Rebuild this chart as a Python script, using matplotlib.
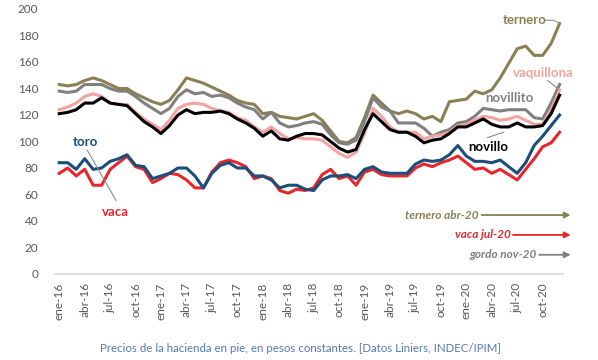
import matplotlib.pyplot as plt
import numpy as np

# Series mensuales ene-16 .. dic-20 (60 meses), pesos constantes
meses = ['ene', 'feb', 'mar', 'abr', 'may', 'jun', 'jul', 'ago', 'sep', 'oct', 'nov', 'dic']
anios = ['16', '17', '18', '19', '20']
etiquetas = [m + '-' + a for a in anios for m in meses]

ternero = [143, 142, 143, 146, 148, 146, 143, 140, 140, 136, 133, 130,
           128, 131, 139, 148, 146, 144, 141, 138, 135, 131, 129, 128,
           121, 122, 119, 118, 117, 119, 121, 116, 108, 100, 99, 103,
           118, 135, 129, 123, 121, 123, 121, 117, 119, 115, 130, 131,
           132, 138, 136, 139, 148, 159, 170, 172, 165, 165, 174, 189]
novillito = [138, 137, 138, 143, 143, 143, 140, 138, 138, 134, 129, 125,
             121, 125, 134, 139, 136, 137, 134, 135, 133, 129, 126, 124,
             117, 122, 114, 111, 112, 114, 115, 113, 105, 99, 98, 101,
             115, 133, 126, 123, 114, 114, 114, 110, 104, 107, 109, 114,
             115, 119, 125, 124, 123, 124, 124, 124, 118, 117, 129, 143]
vaquillona = [124, 126, 129, 134, 136, 134, 129, 128, 128, 122, 117, 113,
              109, 116, 125, 128, 129, 128, 125, 123, 122, 118, 116, 111,
              107, 111, 106, 102, 103, 102, 102, 101, 96, 91, 88, 92,
              106, 125, 119, 111, 107, 107, 107, 102, 104, 105, 107, 112,
              113, 116, 119, 118, 116, 117, 119, 116, 113, 113, 124, 139]
novillo = [121, 122, 124, 129, 129, 133, 129, 128, 127, 121, 115, 111,
           106, 112, 120, 124, 121, 122, 122, 123, 121, 117, 114, 110,
           104, 108, 102, 101, 104, 106, 106, 105, 100, 95, 92, 94,
           109, 121, 115, 109, 107, 107, 104, 99, 101, 102, 106, 111,
           111, 114, 117, 113, 111, 111, 114, 111, 111, 112, 121, 135]
toro = [84, 84, 79, 87, 79, 80, 85, 87, 90, 82, 81, 72,
        74, 76, 80, 80, 74, 65, 76, 82, 84, 80, 80, 74,
        74, 71, 65, 67, 67, 64, 63, 71, 74, 74, 75, 72,
        79, 81, 77, 76, 76, 76, 83, 86, 85, 86, 90, 97,
        89, 85, 85, 84, 86, 81, 76, 84, 97, 104, 112, 120]
vaca = [76, 80, 74, 79, 67, 67, 79, 84, 89, 81, 79, 69,
        72, 76, 75, 71, 65, 65, 77, 84, 86, 84, 81, 72,
        74, 72, 63, 61, 64, 63, 65, 75, 79, 72, 74, 67,
        77, 79, 75, 74, 74, 74, 80, 83, 81, 84, 86, 89,
        84, 79, 80, 76, 79, 75, 71, 79, 87, 96, 99, 107]

# Colores
c_ternero = '#8a8053'
c_novillito = '#808080'
c_vaquillona = '#f4a3a0'
c_novillo = '#000000'
c_toro = '#1b4e7a'
c_vaca = '#e8262b'
c_texto = '#595959'
c_guia = '#8c8c8c'

plt.rcParams['font.family'] = ['Lato', 'DejaVu Sans']

x = np.arange(len(etiquetas))

fig = plt.figure(figsize=(5.98, 3.6), dpi=100)
ax = fig.add_axes([55 / 598, 1 - 274 / 360, (563 - 55) / 598, (274 - 9) / 360])

lw = 2.2
ax.plot(x, ternero, color=c_ternero, lw=lw)
ax.plot(x, novillito, color=c_novillito, lw=lw)
ax.plot(x, vaquillona, color=c_vaquillona, lw=lw)
ax.plot(x, novillo, color=c_novillo, lw=lw)
ax.plot(x, vaca, color=c_vaca, lw=lw)
ax.plot(x, toro, color=c_toro, lw=lw)

ax.set_xlim(-0.5, 59.4)
ax.set_ylim(0, 200)
ax.set_yticks(range(0, 201, 20))
ax.set_xticks(x[::3])
ax.set_xticklabels(etiquetas[::3], rotation=90)
ax.tick_params(axis='both', length=0, colors=c_texto, labelsize=8.5)
ax.tick_params(axis='y', pad=12)
ax.tick_params(axis='x', pad=6)
for s in ['top', 'right', 'left']:
    ax.spines[s].set_visible(False)
ax.spines['bottom'].set_color('#d9d9d9')
ax.spines['bottom'].set_linewidth(1.2)

# Etiquetas de las series
fb = dict(fontsize=9.5, fontweight='bold', va='center')
ax.text(52.3, 191.5, 'ternero', color=c_ternero, ha='left', **fb)
ax.plot([57.3, 58.3, 59], [191.5, 191.5, 189], color=c_guia, lw=0.8)
ax.text(53.5, 152, 'vaquillona', color=c_vaquillona, ha='left', **fb)
ax.plot([57.6, 58.8], [146, 140], color=c_guia, lw=0.8)
ax.text(53.1, 133, 'novillito', color=c_novillito, ha='center', **fb)
ax.text(50.6, 96, 'novillo', color=c_novillo, ha='center', **fb)
ax.plot([50.5, 52.4], [103, 107], color=c_guia, lw=0.8)
ax.text(3.1, 99.5, 'toro', color=c_toro, ha='center', **fb)
ax.text(6.6, 47, 'vaca', color=c_vaca, ha='center', **fb)
ax.plot([3.3, 6.7], [93.5, 55.5], color=c_guia, lw=0.8)

# Flechas de maximos
fi = dict(fontsize=8.5, fontweight='bold', style='italic', ha='right', va='center')
flechas = [('ternero abr-20', 44.5, 49.8, c_ternero),
           ('vaca jul-20', 29.5, 53.5, c_vaca),
           ('gordo nov-20', 14.5, 56.6, '#7f7f7f')]
for txt, yv, x0, col in flechas:
    ax.text(x0 - 0.3, yv, txt, color=col, **fi)
    ax.annotate('', xy=(60.3, yv), xytext=(x0, yv), annotation_clip=False,
                arrowprops=dict(arrowstyle='-|>', color=col, lw=1.3,
                                mutation_scale=9, shrinkA=0, shrinkB=0))

fig.text(300 / 598, 1 - 348 / 360,
         'Precios de la hacienda en pie, en pesos constantes. [Datos Liniers, INDEC/IPIM]',
         color='#5679b0', fontsize=8.3, ha='center', va='center')

plt.savefig('out.png', dpi=100)
